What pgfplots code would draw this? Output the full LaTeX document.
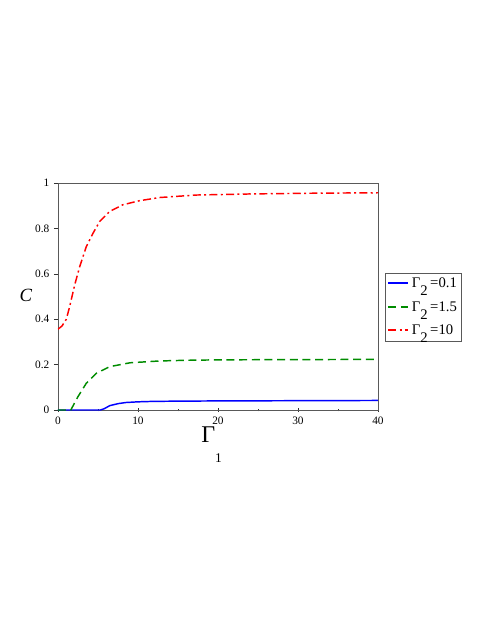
\documentclass[border=0pt]{standalone}
\usepackage{pgfplots}
\pgfplotsset{compat=1.18}
\usepackage{fontspec}
\setmainfont{Liberation Serif}
\begin{document}
\begin{tikzpicture}[x=0.75pt,y=0.75pt]
\path[use as bounding box] (-58,-225) rectangle (433,410);
\begin{axis}[
  at={(0,0)}, anchor=south west,
  scale only axis, width=240pt, height=170.25pt,
  xmin=0, xmax=40, ymin=0, ymax=1,
  xtick={0,10,20,30,40}, minor xtick={5,15,25,35},
  ytick={0,0.2,0.4,0.6,0.8,1},
  yticklabels={0,0.2,0.4,0.6,0.8,1},
  xtick pos=bottom, ytick pos=left,
  xtick align=center, ytick align=outside,
  major tick length=3pt, minor tick length=2pt,
  axis line style={black!65},
  tick style={black!80},
  tick label style={font=\fontsize{8.5}{9}\selectfont},
  /pgf/number format/assume math mode=true,
  xlabel={\fontsize{18}{19}\selectfont\textup{Γ}\lower1.8ex\hbox{\fontsize{10}{11}\selectfont 1}},
  ylabel={\fontsize{14}{15}\selectfont\textit{C}},
  ylabel style={rotate=-90, at={(axis description cs:-0.1,0.505)}, anchor=center},
  xlabel style={at={(axis description cs:0.48,-0.055)}, anchor=north},
  legend style={at={(axis description cs:1.022,0.605)}, anchor=north west,
    draw=black!65, font=\fontsize{11}{12}\selectfont, inner sep=1.5pt,
    row sep=5pt, cells={anchor=west}},
  legend image code/.code={\draw[#1, line width=1.5pt] (0pt,0.4pt) -- (15pt,0.4pt);},
]
\addplot[color=blue, line width=1.1pt] coordinates {
  (0,0)(5.3,0)(5.8,0.006)(6.46,0.019)(7.5,0.028)(8.5,0.033)(10,0.036)(11.9,0.038)
  (15,0.039)(20,0.040)(30,0.041)(40,0.042)};
\addlegendentry{Γ\lower1.2ex\hbox{2}\,=0.1}
\addplot[color=green!55!black, line width=1.1pt, dash pattern=on 6pt off 3.5pt] coordinates {
  (0,0)(1.6,0)(2.5,0.059)(3.54,0.118)(4.8,0.162)(6.46,0.191)(9,0.208)(12.7,0.216)
  (16,0.219)(20.2,0.221)(30,0.222)(40,0.223)};
\addlegendentry{Γ\lower1.2ex\hbox{2}\,=1.5}
\addplot[color=red, line width=1.1pt, dash pattern=on 6pt off 2.5pt on 1.5pt off 2.5pt] coordinates {
  (0,0.356)(0.5,0.37)(1.04,0.40)(1.46,0.456)(2.08,0.55)(2.7,0.63)(3.54,0.72)
  (4.4,0.78)(5.2,0.83)(6.46,0.875)(8.1,0.904)(10.2,0.922)(12.7,0.936)(17.3,0.947)
  (24.4,0.952)(32,0.955)(40,0.957)};
\addlegendentry{Γ\lower1.2ex\hbox{2}\,=10}
\end{axis}
\end{tikzpicture}
\end{document}
